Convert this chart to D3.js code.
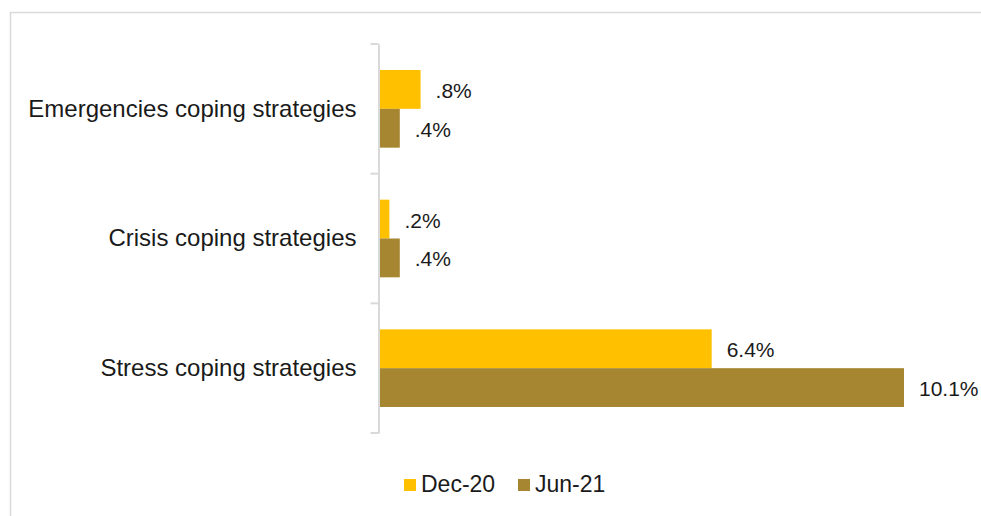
<!DOCTYPE html>
<html><head><meta charset="utf-8">
<script src="https://cdn.jsdelivr.net/npm/d3@7"></script>
<style>html,body{margin:0;padding:0;background:#fff;}svg{display:block;font-family:"Liberation Sans",Arial,sans-serif;}</style>
</head><body>
<svg id="c" width="981" height="516"></svg>
<script>
const categories = ["Emergencies coping strategies", "Crisis coping strategies", "Stress coping strategies"];
const seriesNames = ["Dec-20", "Jun-21"];
const dec20 = [0.8, 0.2, 6.4];
const jun21 = [0.4, 0.4, 10.1];
const valueLabels = [[".8%", ".4%"], [".2%", ".4%"], ["6.4%", "10.1%"]];
const colors = ["#FFC000", "#A68630"];

const svg = d3.select("#c");
// outer frame
svg.append("path").attr("d", "M10.5,516 V12.5 H981").attr("fill", "none").attr("stroke", "#d9d9d9").attr("stroke-width", 1.5);

const x0 = 379, y0 = 44, y1 = 433;
const x = d3.scaleLinear().domain([0, 10.1]).range([x0, 904]);
const y = d3.scaleBand().domain(categories).range([y0, y1]).paddingInner(0).paddingOuter(0);
const inner = d3.scaleBand().domain(seriesNames).range([26, y.bandwidth() - 26]).paddingInner(0).paddingOuter(0);

const data = categories.map((c, i) => ({cat: c, vals: [dec20[i], jun21[i]], labels: valueLabels[i]}));

const g = svg.append("g");
data.forEach(d => {
  d.vals.forEach((v, j) => {
    const yy = y(d.cat) + inner(seriesNames[j]);
    g.append("rect").attr("x", x(0)).attr("y", yy).attr("width", x(v) - x(0)).attr("height", inner.bandwidth()).attr("fill", colors[j]);
    g.append("text").attr("x", x(v) + 15).attr("y", yy + inner.bandwidth() / 2 + 3)
      .attr("dominant-baseline", "middle").attr("font-size", 21).attr("fill", "#1a1a1a").text(d.labels[j]);
  });
});

// axis
const axis = d3.axisLeft(y).tickSize(0).tickPadding(22);
const ag = svg.append("g").attr("transform", `translate(${x0 - 0.5},0)`).call(axis);
ag.select(".domain").attr("stroke", "#d9d9d9").attr("stroke-width", 2);
ag.selectAll("text").attr("font-size", 24).attr("fill", "#1a1a1a").attr("font-family", "Liberation Sans, Arial, sans-serif");
// boundary tick marks
const bounds = [y0].concat(categories.map(c => y(c) + y.bandwidth()));
ag.selectAll("line.b").data(bounds).enter().append("line").attr("class", "b")
  .attr("x1", -8).attr("x2", 0).attr("y1", d => d).attr("y2", d => d).attr("stroke", "#d9d9d9").attr("stroke-width", 2);

// legend
const leg = svg.append("g");
const legX = [404, 518];
seriesNames.forEach((s, j) => {
  leg.append("rect").attr("x", legX[j]).attr("y", 479).attr("width", 12).attr("height", 12).attr("fill", colors[j]);
  leg.append("text").attr("x", legX[j] + 17).attr("y", 486).attr("dominant-baseline", "middle")
    .attr("font-size", 23).attr("fill", "#1a1a1a").text(s);
});
</script>
</body></html>
